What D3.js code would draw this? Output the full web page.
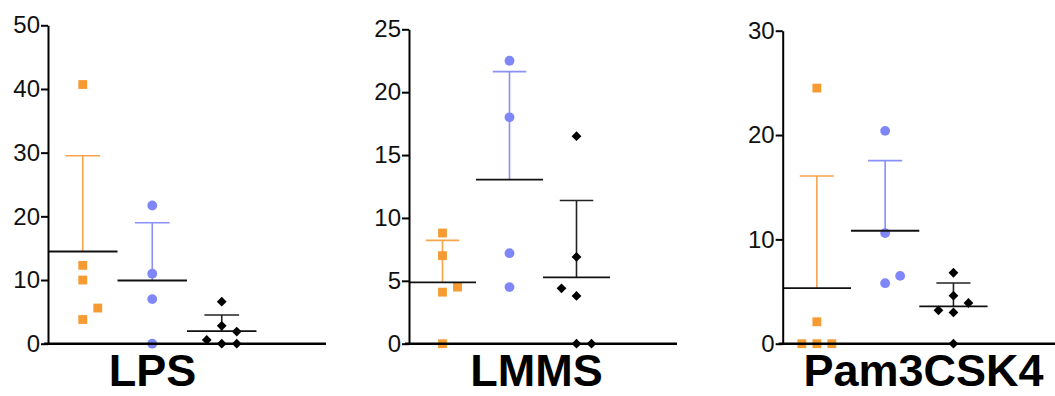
<!DOCTYPE html>
<html>
<head>
<meta charset="utf-8">
<script src="https://cdn.jsdelivr.net/npm/d3@7"></script>
<style>
	body { margin: 0; background: #fff; }
	svg { display: block; }
	.tick text { font-family: "Liberation Sans", Arial, sans-serif; font-size: 24px; fill: #111; }
	.title { font-family: "Liberation Sans", Arial, sans-serif; font-weight: bold; font-size: 45px; fill: #000; }
</style>
</head>
<body>
<script>
	// Panels and groups
	let panels = ['LPS', 'LMMS', 'Pam3CSK4'];
	let groups = ['orange', 'blue', 'black'];

	// Values per panel, one array per group
	let lpsOrange = [40.7, 12.3, 10.0, 3.8, 5.6];
	let lpsBlue = [21.7, 11.0, 7.0, 0];
	let lpsBlack = [0, 0, 0.6, 2.8, 1.9, 6.6];

	let lmmsOrange = [8.8, 7.0, 4.1, 4.5, 0];
	let lmmsBlue = [22.5, 18.0, 7.2, 4.5];
	let lmmsBlack = [0, 0, 3.8, 4.4, 6.9, 16.5];

	let pamOrange = [24.5, 2.1, 0, 0, 0];
	let pamBlue = [20.4, 10.6, 5.8, 6.5];
	let pamBlack = [0, 3.0, 3.9, 3.2, 4.6, 6.8];

	// Tick labels
	let lpsTicks = [0, 10, 20, 30, 40, 50];
	let lmmsTicks = [0, 5, 10, 15, 20, 25];
	let pamTicks = [0, 10, 20, 30];

	let values = [
		[lpsOrange, lpsBlue, lpsBlack],
		[lmmsOrange, lmmsBlue, lmmsBlack],
		[pamOrange, pamBlue, pamBlack]
	];
	let ticks = [lpsTicks, lmmsTicks, pamTicks];

	// Layout of each panel
	let layout = [
		{axisX: 48, band: 69.5, top: 25.3, titleX: 152.5},
		{axisX: 409, band: 67, top: 29.3, titleX: 536.5},
		{axisX: 782.7, band: 68.3, top: 30.7, titleX: 923.5}
	];
	let bottom = 343.7;

	let pointColor = {orange: '#f59b32', blue: '#7f87f8', black: '#000'};
	let errColor = {orange: '#f6a54a', blue: '#8a90f6', black: '#222'};
	let symbols = {
		orange: {type: d3.symbolSquare, size: 78, rotate: 0},
		blue: {type: d3.symbolCircle, size: 76, rotate: 0},
		black: {type: d3.symbolSquare, size: 48, rotate: 45}
	};

	let svg = d3.select('body').append('svg')
		.attr('width', 1055)
		.attr('height', 396);

	// Spread points that would overlap, like a small beeswarm
	function swarm(vals, y, step, r){
		let placed = [],
			side = 1;
		return vals.map(v => {
			let py = y(v);
			let hits = dx => placed.some(p => Math.hypot(p.dx - dx, p.py - py) < r);
			let dx = 0;
			if(hits(0)){
				for(let k = 1; k < 5; k++){
					if(!hits(side * k * step)){ dx = side * k * step; break; }
					if(!hits(-side * k * step)){ dx = -side * k * step; break; }
				}
				side = dx > 0 ? -1 : 1;
			}
			placed.push({dx: dx, py: py});
			return {v: v, dx: dx};
		});
	}

	panels.forEach((name, i) => {
		let L = layout[i],
			tv = ticks[i];

		let y = d3.scaleLinear()
			.domain([0, d3.max(tv)])
			.range([bottom, L.top]);
		let x = d3.scaleBand()
			.domain(groups)
			.range([L.axisX, L.axisX + 3 * L.band]);

		let g = svg.append('g');

		groups.forEach((grp, j) => {
			let vals = values[i][j],
				cx = x(grp) + x.bandwidth() / 2,
				m = d3.mean(vals),
				sd = d3.deviation(vals),
				half = x.bandwidth() / 2;

			// Error bar (upper SD only)
			g.append('line')
				.attr('x1', cx).attr('x2', cx)
				.attr('y1', y(m)).attr('y2', y(m + sd))
				.attr('stroke', errColor[grp])
				.attr('stroke-width', 1.6);
			g.append('line')
				.attr('x1', cx - half / 2).attr('x2', cx + half / 2)
				.attr('y1', y(m + sd)).attr('y2', y(m + sd))
				.attr('stroke', errColor[grp])
				.attr('stroke-width', 1.6);

			// Points
			let s = symbols[grp];
			g.selectAll(null)
				.data(swarm(vals, y, 15, 12))
				.enter()
				.append('path')
				.attr('d', d3.symbol().type(s.type).size(s.size))
				.attr('fill', pointColor[grp])
				.attr('transform', d => 'translate(' + (cx + d.dx) + ',' + y(d.v) + ') rotate(' + s.rotate + ')');

			// Mean line
			g.append('line')
				.attr('x1', cx - half).attr('x2', cx + half)
				.attr('y1', y(m)).attr('y2', y(m))
				.attr('stroke', '#111')
				.attr('stroke-width', 1.8);
		});

		// X baseline
		g.append('line')
			.attr('x1', L.axisX - 4)
			.attr('x2', L.axisX + 4 * L.band)
			.attr('y1', bottom).attr('y2', bottom)
			.attr('stroke', '#000')
			.attr('stroke-width', 2.5);

		// Y axis
		let ax = g.append('g')
			.attr('transform', 'translate(' + L.axisX + ',0)')
			.call(d3.axisLeft(y).tickValues(tv).tickSize(7).tickSizeOuter(0).tickPadding(1));
		ax.select('.domain').attr('stroke', '#000').attr('stroke-width', 2);
		ax.selectAll('.tick line').attr('stroke', '#000').attr('stroke-width', 2);

		// Panel title
		g.append('text')
			.attr('class', 'title')
			.attr('x', L.titleX)
			.attr('y', 386)
			.attr('text-anchor', 'middle')
			.text(name);
	});
</script>
</body>
</html>
